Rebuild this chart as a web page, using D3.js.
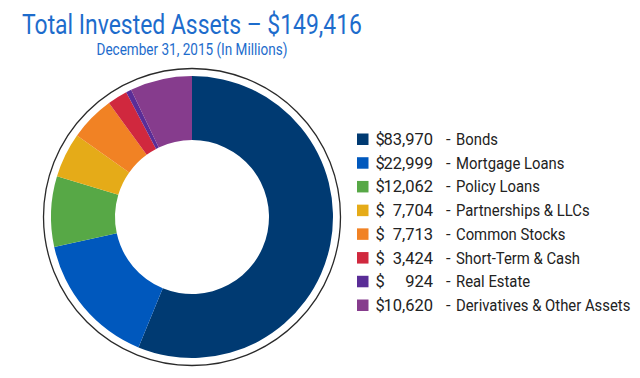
<!DOCTYPE html>
<html><head><meta charset="utf-8">
<script src="https://cdn.jsdelivr.net/npm/d3@7"></script>
<style>body{margin:0;background:#fff}svg{display:block}</style>
</head><body>
<svg id="c" width="640" height="378"></svg>
<script>
const categories = ["Bonds","Mortgage Loans","Policy Loans","Partnerships & LLCs","Common Stocks","Short-Term & Cash","Real Estate","Derivatives & Other Assets"];
const values = [83970,22999,12062,7704,7713,3424,924,10620];
const colors = ["#003a72","#0058bd","#57a846","#e5ab18","#f18224","#d0283e","#5a2d97","#863c8d"];
const title = "Total Invested Assets \u2013 $149,416";
const subtitle = "December 31, 2015 (In Millions)";

const svg = d3.select("#c");
const font = "Roboto, 'Noto Sans', sans-serif";
const cx = 192, cy = 217;

function fitText(sel, w){ sel.attr("textLength", w).attr("lengthAdjust","spacingAndGlyphs"); }

svg.append("text").attr("x",cx).attr("y",33.5).attr("text-anchor","middle")
  .attr("font-family",font).attr("font-size",28).attr("fill","#1d6ccc").text(title).call(fitText,340);
svg.append("text").attr("x",cx).attr("y",55).attr("text-anchor","middle")
  .attr("font-family",font).attr("font-size",16.5).attr("fill","#1d6ccc").text(subtitle).call(fitText,191);

const data = categories.map((c,i)=>({c, v:values[i], col:colors[i]}));
const pie = d3.pie().sort(null).value(d=>d.v);
const arc = d3.arc().innerRadius(77).outerRadius(141);
const g = svg.append("g").attr("transform",`translate(${cx},${cy})`);
g.append("circle").attr("r",148.5).attr("fill","none").attr("stroke","#2a2a2a").attr("stroke-width",1.3);
g.selectAll("path").data(pie(data)).join("path").attr("d",arc).attr("fill",d=>d.data.col);

const fmt = d3.format(",");
const rowY = d3.scaleLinear().domain([0,7]).range([145,311]);
const lg = svg.append("g");
data.forEach((d,i)=>{
  const y = rowY(i);
  lg.append("rect").attr("x",357).attr("y",y-11.5).attr("width",11.5).attr("height",11.5).attr("fill",d.col);
  const t = (x,anchor,s)=>lg.append("text").attr("x",x).attr("y",y).attr("text-anchor",anchor)
     .attr("font-family",font).attr("font-size",16.5).attr("fill","#222").text(s);
  t(375.5,"start","$");
  t(433,"end",fmt(d.v));
  t(446,"start","-");
  lg.append("text").attr("transform",`translate(456,${y}) scale(0.9,1)`)
     .attr("font-family",font).attr("font-size",16.5).attr("fill","#222").text(d.c);
});
</script>
</body></html>
